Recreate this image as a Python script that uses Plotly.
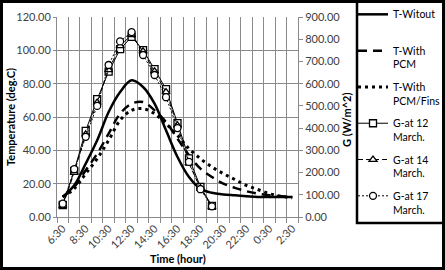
import plotly.graph_objects as go

categories = ["6:30", "7:30", "8:30", "9:30", "10:30", "11:30", "12:30", "13:30", "14:30",
              "15:30", "16:30", "17:30", "18:30", "19:30", "20:30", "21:30", "22:30",
              "23:30", "0:30", "1:30", "2:30"]

t_without = [12, 19, 32, 46, 63, 75, 82, 78, 68, 52, 36, 24, 17, 14.5, 13.5, 13, 12.5, 12, 12, 12, 12]
t_pcm = [12, 18, 28, 38, 50, 62, 68, 69, 64, 57, 47, 37, 29, 24, 20, 17.5, 15.5, 14, 13, 12.5, 12]
t_fins = [12, 17, 26, 35, 46, 58, 64, 65, 62, 56, 49, 41, 35, 30, 26, 22.5, 19, 16.5, 14, 12.5, 11.5]

g_12 = [54, 208, 388, 530, 654, 755, 811, 751, 665, 575, 422, 264, 136, 50]
g_14 = [50, 200, 372, 515, 662, 770, 820, 745, 655, 562, 412, 241, 130, 46]
g_17 = [60, 215, 361, 500, 684, 790, 832, 729, 639, 539, 400, 248, 125, 48]

left_ticks = [0, 20, 40, 60, 80, 100, 120]
right_ticks = [0, 100, 200, 300, 400, 500, 600, 700, 800, 900]

x_idx = list(range(len(categories)))
FONT = "Lato"
TICKC = "#404040"
GRID = "#8a8a8a"

fig = go.Figure()

fig.add_trace(go.Scatter(x=x_idx, y=t_without, name="T-Witout<br> ", mode="lines",
                         line=dict(color="black", width=2.5, shape="spline"),
                         legendgroup="a"))
fig.add_trace(go.Scatter(x=x_idx, y=t_pcm, name="T-With<br>PCM", mode="lines",
                         line=dict(color="black", width=2.5, dash="9px,6px", shape="spline"),
                         legendgroup="b"))
fig.add_trace(go.Scatter(x=x_idx, y=t_fins, name="T-With<br>PCM/Fins", mode="lines",
                         line=dict(color="black", width=3, dash="3px,4px", shape="spline"),
                         legendgroup="c"))

mk = dict(size=7, color="white", line=dict(color="black", width=1.3))
fig.add_trace(go.Scatter(x=x_idx[:len(g_12)], y=g_12, name="G-at 12<br>March.", mode="lines+markers",
                         line=dict(color="black", width=1), marker=dict(symbol="square", **mk),
                         yaxis="y2", legendgroup="d"))
fig.add_trace(go.Scatter(x=x_idx[:len(g_14)], y=g_14, name="G-at 14<br>March.", mode="lines+markers",
                         line=dict(color="black", width=1, dash="5px,3px"),
                         marker=dict(symbol="triangle-up", **mk),
                         yaxis="y2", legendgroup="e"))
fig.add_trace(go.Scatter(x=x_idx[:len(g_17)], y=g_17, name="G-at 17<br>March.", mode="lines+markers",
                         line=dict(color="black", width=1, dash="2px,2px"),
                         marker=dict(symbol="circle", **mk),
                         yaxis="y2", legendgroup="f"))

W, H = 445, 270
L, R, T, B = 57, 147, 17, 53
pw, ph = W - L - R, H - T - B

def px(xp):
    return (xp - L) / pw

def py(yp):
    return (H - B - yp) / ph

fig.update_layout(
    width=W, height=H,
    margin=dict(l=L, r=R, t=T, b=B, autoexpand=False),
    paper_bgcolor="white", plot_bgcolor="white",
    font=dict(family=FONT, size=11, color=TICKC),
    xaxis=dict(range=[-0.5, len(categories) - 0.5], tickmode="array",
               tickvals=x_idx[::2], ticktext=categories[::2], tickangle=-45,
               showgrid=False, ticks="", showline=True, linecolor=GRID, linewidth=1,
               zeroline=False, automargin=False,
               tickfont=dict(family=FONT, size=11, color=TICKC),
               minor=dict(tickmode="linear", tick0=-0.5, dtick=1, showgrid=True,
                          gridcolor=GRID, gridwidth=1, ticks="outside", ticklen=5,
                          tickcolor=GRID)),
    yaxis=dict(range=[0, 120], tickmode="array", tickvals=left_ticks,
               tickformat=".2f", showgrid=True, gridcolor=GRID, gridwidth=1,
               ticks="outside", ticklen=3, tickcolor=GRID, showline=True, linecolor=GRID,
               zeroline=False, automargin=False,
               tickfont=dict(family=FONT, size=11, color=TICKC)),
    yaxis2=dict(range=[0, 900], tickmode="array", tickvals=right_ticks, tickformat=".2f",
                overlaying="y", side="right", showgrid=False, ticks="outside", ticklen=4,
                tickcolor=GRID, showline=True, linecolor=GRID, zeroline=False,
                automargin=False,
                tickfont=dict(family=FONT, size=11, color=TICKC)),
    legend=dict(x=px(353), y=py(1), xanchor="left", yanchor="top",
                bgcolor="rgba(0,0,0,0)", borderwidth=0, tracegroupgap=6,
                itemwidth=30, valign="top", maxheight=1,
                font=dict(family=FONT, size=10.5, color="black")),
    showlegend=True,
)

# outer frame and legend box
fig.add_shape(type="rect", xref="paper", yref="paper",
              x0=px(1.5), x1=px(W - 1.5), y0=py(H - 1.5), y1=py(1.5),
              line=dict(color="black", width=3))
fig.add_shape(type="rect", xref="paper", yref="paper",
              x0=px(357), x1=px(W - 1.5), y0=py(223), y1=py(1.5),
              line=dict(color="black", width=2.5))

fig.add_annotation(text="<b>Temperature (deg.C)</b>", xref="paper", yref="paper",
                   x=px(10), y=0.5, xanchor="center", yanchor="middle",
                   textangle=-90, showarrow=False,
                   font=dict(family=FONT, size=11, color="black"))
fig.add_annotation(text="<b>G (W/m^2)</b>", xref="paper", yref="paper",
                   x=px(346), y=py(120), xanchor="center", yanchor="middle",
                   textangle=-90, showarrow=False,
                   font=dict(family=FONT, size=11, color="black"))
fig.add_annotation(text="<b>Time (hour)</b>", xref="paper", yref="paper",
                   x=0.5, y=py(258), xanchor="center", yanchor="middle", showarrow=False,
                   font=dict(family=FONT, size=11, color="black"))

fig.write_html("out.html", config={"displayModeBar": False},
               post_script="document.body.style.margin='0';document.body.style.overflow='hidden';")
